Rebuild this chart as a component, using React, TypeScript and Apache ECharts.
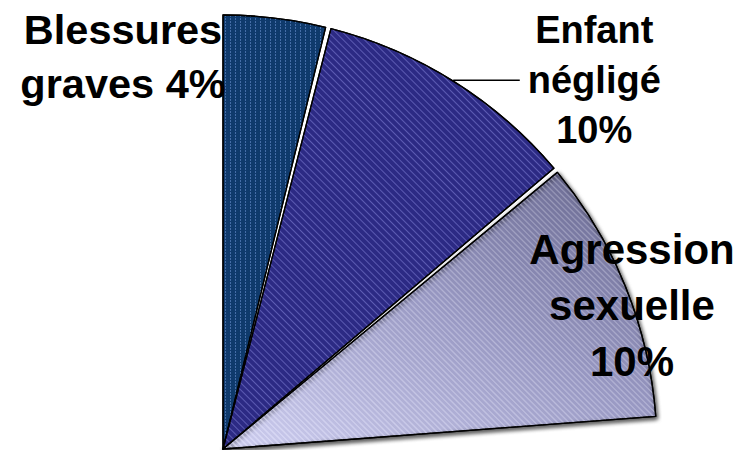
import React, { useEffect, useRef } from 'react';
import * as echarts from 'echarts';

// Shares of reported cases (%), drawn clockwise from 12 o'clock
const categories = ['Blessures\ngraves', 'Enfant\nnégligé', 'Agression\nsexuelle', 'Autres'];
const shares = [4, 10, 10, 76];
// whether the percentage sits on its own line under the category name
const valueOnOwnLine = [false, true, true, false];
const sliceColors = ['#0f3a6c', '#2c2a84', 'gradient', 'rgba(0,0,0,0)'];

const PAD = 0.72;
const FONT = '"Liberation Sans", Arial, Helvetica, sans-serif';

function labelText(i: number) {
  const sep = valueOnOwnLine[i] ? '\n' : ' ';
  return `${categories[i]}${sep}${shares[i]}%`
    .split('\n')
    .map((l) => `{c|${l}}`)
    .join('\n');
}

function richFor(size: number, lh: number) {
  return {
    c: {
      fontSize: size,
      lineHeight: lh,
      fontWeight: 'bold',
      fontFamily: FONT,
      color: '#000',
      align: 'center',
    },
  };
}

export default function App() {
  const ref = useRef<HTMLDivElement>(null);

  useEffect(() => {
    if (!ref.current) return;
    const chart = echarts.init(ref.current, null, { renderer: 'svg' });

    const lightFill = new echarts.graphic.LinearGradient(0.8, 0, 0, 1, [
      { offset: 0, color: '#74749e' },
      { offset: 0.45, color: '#a2a2ce' },
      { offset: 1, color: '#dadafd' },
    ]);

    const decals = [
      {
        symbol: 'rect',
        symbolSize: 1,
        color: 'rgba(110,150,215,0.55)',
        dashArrayX: [1, 4],
        dashArrayY: [2, 1],
        rotation: 0,
      },
      {
        symbol: 'rect',
        symbolSize: 1,
        color: 'rgba(150,150,235,0.45)',
        dashArrayX: [1, 0],
        dashArrayY: [1, 4],
        rotation: Math.PI / 4,
      },
      {
        symbol: 'rect',
        symbolSize: 1,
        color: 'rgba(255,255,255,0.22)',
        dashArrayX: [1, 0],
        dashArrayY: [1, 3],
        rotation: Math.PI / 4,
      },
      { symbol: 'none' },
    ];

    // [fontSize, lineHeight, position]
    const labelSpecs: [number, number, string][] = [
      [41.5, 54, 'inside'],
      [38, 50, 'outside'],
      [42, 56, 'inside'],
      [12, 14, 'inside'],
    ];

    const data = shares.map((v, i) => {
      const visible = i < 3;
      return {
        name: categories[i],
        value: v,
        itemStyle: {
          color: sliceColors[i] === 'gradient' ? lightFill : sliceColors[i],
          borderColor: visible ? '#000' : 'rgba(0,0,0,0)',
          borderWidth: visible ? 1.3 : 0,
          decal: decals[i],
          ...(i === 2
            ? {
                shadowBlur: 4,
                shadowColor: 'rgba(0,0,0,0.6)',
                shadowOffsetX: 1,
                shadowOffsetY: 2,
              }
            : {}),
        },
        label: {
          show: visible,
          position: labelSpecs[i][2],
          formatter: () => labelText(i),
          rich: richFor(labelSpecs[i][0], labelSpecs[i][1]),
        },
        labelLine: { show: i === 1 },
      };
    });

    const option = {
      animation: false,
      backgroundColor: '#ffffff',
      aria: { enabled: true, decal: { show: true } },
      series: [
        {
          type: 'pie',
          center: [223, 449],
          radius: 434,
          startAngle: 90 + PAD / 2,
          clockwise: true,
          padAngle: PAD,
          avoidLabelOverlap: false,
          emphasis: { disabled: true },
          label: {
            show: true,
            distanceToLabelLine: 8,
          },
          labelLine: {
            show: true,
            length: 1,
            length2: 66,
            lineStyle: { color: '#000', width: 1.5 },
          },
          labelLayout: (params: any) => {
            if (params.dataIndex === 0) {
              return { x: 123, y: 56, align: 'center', verticalAlign: 'middle' };
            }
            if (params.dataIndex === 2) {
              return { x: 632, y: 305, align: 'center', verticalAlign: 'middle' };
            }
            return {};
          },
          data,
        },
      ],
    };

    chart.setOption(option as any);
    return () => chart.dispose();
  }, []);

  return (
    <div
      ref={ref}
      style={{ position: 'absolute', left: 0, top: 0, width: 738, height: 450 }}
    />
  );
}
